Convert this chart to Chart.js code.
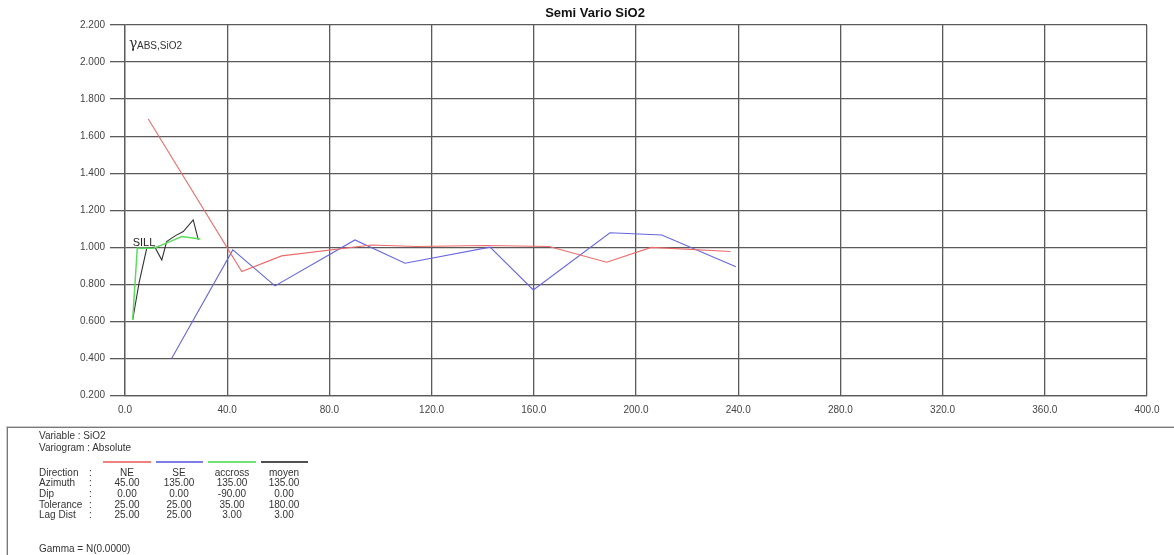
<!DOCTYPE html>
<html>
<head>
<meta charset="utf-8">
<title>Semi Vario SiO2</title>
<script src="https://cdn.jsdelivr.net/npm/chart.js@4.4.1/dist/chart.umd.min.js"></script>
<style>
  html, body { margin: 0; padding: 0; background: #fff; }
  #wrap { position: relative; width: 1174px; height: 555px; overflow: hidden;
          font-family: "Liberation Sans", Arial, sans-serif; color: #333; }
  #chart { position: absolute; left: 0; top: 0; }
  #info { position: absolute; left: 7px; top: 427px; width: 1170px; height: 140px;
          border-top: 1px solid #777; border-left: 1px solid #777;
          box-shadow: -1px -1px 0 #ccc; font-size: 10px; }
  #info div, #info span { position: absolute; white-space: nowrap; line-height: 10px; }
  .sw { height: 2px; opacity: 0.85; }
  .c { transform: translateX(-50%); text-align: center; }
</style>
</head>
<body>
<div id="wrap">
  <canvas id="chart" width="1174" height="555"></canvas>
  <div id="info"></div>
</div>
<script>
// Experimental semi-variogram of SiO2 for four directions
const lagNE = [9.1, 45.7, 61.3, 96.5, 114.0, 141.0, 166.0, 188.5, 206.0, 237.0];
const gammaNE = [1.693, 0.869, 0.954, 1.013, 1.005, 1.010, 1.005, 0.920, 1.000, 0.978];

const lagSE = [18.3, 42.2, 58.7, 90.0, 109.6, 142.9, 159.8, 189.8, 210.1, 239.1];
const gammaSE = [0.402, 0.986, 0.792, 1.040, 0.914, 1.001, 0.770, 1.079, 1.067, 0.896];

const lagAccross = [3.0, 4.8, 11.3, 17.6, 22.2, 29.5];
const gammaAccross = [0.608, 0.995, 0.995, 1.031, 1.058, 1.045];

const lagMoyen = [3.0, 5.5, 8.5, 11.7, 14.4, 16.3, 19.6, 22.8, 26.7, 28.7];
const gammaMoyen = [0.608, 0.808, 0.995, 1.001, 0.932, 1.031, 1.062, 1.085, 1.148, 1.040];

const sill = 1.0;

// Direction parameters shown in the info panel
const directions = ["NE", "SE", "accross", "moyen"];
const azimuth = ["45.00", "135.00", "135.00", "135.00"];
const dip = ["0.00", "0.00", "-90.00", "0.00"];
const tolerance = ["25.00", "25.00", "35.00", "180.00"];
const lagDist = ["25.00", "25.00", "3.00", "3.00"];

const colors = ["#ee6a6a", "#6666e0", "#5cdc5c", "#333333"];

const pts = (xs, ys) => xs.map((x, i) => ({ x: x, y: ys[i] }));

const labelsPlugin = {
  id: 'variogramLabels',
  afterDraw(chart) {
    const ctx = chart.ctx;
    const xs = chart.scales.x, ys = chart.scales.y;
    ctx.save();
    // title
    ctx.fillStyle = '#111';
    ctx.font = 'bold 13px "Liberation Sans", Arial, sans-serif';
    ctx.textAlign = 'center';
    ctx.textBaseline = 'middle';
    ctx.fillText('Semi Vario SiO2', 595, 13);
    // axis label gamma
    ctx.textAlign = 'left';
    ctx.textBaseline = 'alphabetic';
    ctx.fillStyle = '#333';
    ctx.font = '14px "DejaVu Serif", serif';
    ctx.fillText('\u03b3', 129, 48);
    ctx.font = '10px "Liberation Sans", Arial, sans-serif';
    ctx.fillText('ABS,SiO2', 137, 49);
    // sill label
    ctx.fillStyle = '#222';
    ctx.font = '11px "Liberation Sans", Arial, sans-serif';
    ctx.textBaseline = 'bottom';
    ctx.fillText('SILL', xs.getPixelForValue(3.0), ys.getPixelForValue(sill) + 1);
    ctx.restore();
  }
};

new Chart(document.getElementById('chart'), {
  type: 'scatter',
  data: {
    datasets: [
      { label: 'NE', data: pts(lagNE, gammaNE), borderColor: colors[0] },
      { label: 'SE', data: pts(lagSE, gammaSE), borderColor: colors[1] },
      { label: 'accross', data: pts(lagAccross, gammaAccross), borderColor: colors[2], borderWidth: 1.5 },
      { label: 'moyen', data: pts(lagMoyen, gammaMoyen), borderColor: colors[3] }
    ].map(d => Object.assign({ showLine: true, pointRadius: 0, borderWidth: 1.1, tension: 0 }, d))
  },
  options: {
    responsive: false,
    animation: false,
    events: [],
    layout: { padding: { top: 25, right: 27, left: 0, bottom: 0 } },
    plugins: { legend: { display: false }, tooltip: { enabled: false } },
    scales: {
      x: {
        type: 'linear', min: 0, max: 400,
        ticks: { stepSize: 40, padding: 9, color: '#444', maxRotation: 0,
                 font: { family: '"Liberation Sans", Arial, sans-serif', size: 10 },
                 callback: v => v.toFixed(1) },
        grid: { color: '#5a5a5a', lineWidth: 1.3, drawTicks: false },
        border: { color: '#5a5a5a', width: 1.3 },
        afterFit(s) { s.height = 555 - 395.6; }
      },
      y: {
        min: 0.2, max: 2.2,
        ticks: { stepSize: 0.2, padding: 5, color: '#444',
                 font: { family: '"Liberation Sans", Arial, sans-serif', size: 10 },
                 callback: v => v.toFixed(3) },
        grid: { color: '#5a5a5a', lineWidth: 1.3, tickLength: 15 },
        border: { color: '#5a5a5a', width: 1.3 },
        afterFit(s) { s.width = 125; }
      }
    }
  },
  plugins: [labelsPlugin]
});

// Info panel below the plot
(function () {
  const info = document.getElementById('info');
  const ox = 7, oy = 427;
  function put(text, x, y, cls) {
    const el = document.createElement('div');
    el.textContent = text;
    el.style.left = (x - ox) + 'px';
    el.style.top = (y - oy - 5) + 'px';
    if (cls) el.className = cls;
    info.appendChild(el);
  }
  put('Variable : SiO2', 38, 435);
  put('Variogram : Absolute', 38, 447);
  const centers = [126, 178, 231, 283];
  const swL = [102, 155, 207, 260], swR = [150, 202, 255, 307];
  for (let i = 0; i < 4; i++) {
    const sw = document.createElement('div');
    sw.className = 'sw';
    sw.style.left = (swL[i] - ox) + 'px';
    sw.style.top = (460 - oy) + 'px';
    sw.style.width = (swR[i] - swL[i]) + 'px';
    sw.style.background = colors[i];
    info.appendChild(sw);
  }
  const rows = [
    ['Direction', ':', directions, 472],
    ['Azimuth', ':', azimuth, 482],
    ['Dip', ':', dip, 493],
    ['Tolerance', ':', tolerance, 504],
    ['Lag Dist', ':', lagDist, 514]
  ];
  rows.forEach(r => {
    put(r[0], 38, r[3]);
    put(r[1], 88, r[3]);
    r[2].forEach((v, i) => put(v, centers[i], r[3], 'c'));
  });
  put('Gamma = N(0.0000)', 38, 548);
})();
</script>
</body>
</html>
